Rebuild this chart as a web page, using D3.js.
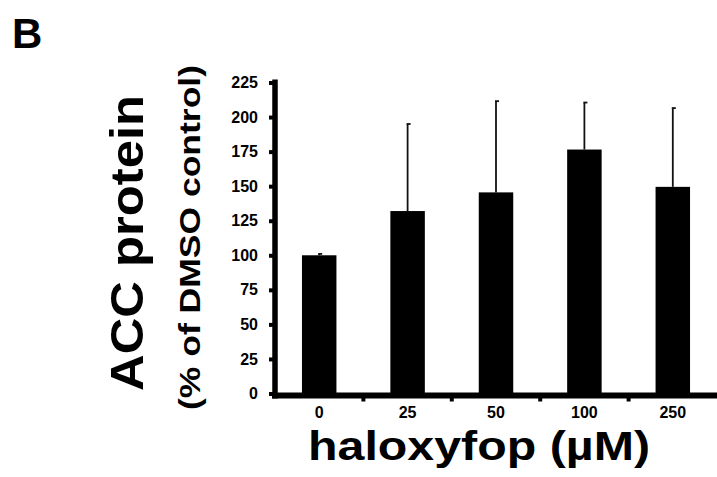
<!DOCTYPE html>
<html>
<head>
<meta charset="utf-8">
<script src="https://cdn.jsdelivr.net/npm/d3@7"></script>
<style>
  html, body { margin: 0; padding: 0; background: #fff; }
  svg { display: block; font-family: "Liberation Sans", Arial, sans-serif; font-weight: bold; }
</style>
</head>
<body>
<svg id="chart" width="717" height="477"></svg>
<script>
// Haloxyfop dose vs ACC protein level (% of DMSO control), mean + upper SD
const doses = ["0", "25", "50", "100", "250"];
const accMean = [100, 132, 145.5, 176.5, 149.5];
const accSD = [1, 63, 66, 34, 57];
const yTicks = [0, 25, 50, 75, 100, 125, 150, 175, 200, 225];

const svg = d3.select("#chart");

const axisX = 275;

const x = d3.scaleBand()
  .domain(doses)
  .range([axisX, 717])
  .paddingInner(0.61)
  .paddingOuter(0.305);

const y = d3.scaleLinear()
  .domain([0, 225])
  .range([393.5, 82.5]);

const data = doses.map((d, i) => ({ dose: d, mean: accMean[i], sd: accSD[i] }));

// bars
svg.append("g")
  .selectAll("rect")
  .data(data)
  .join("rect")
  .attr("x", d => x(d.dose))
  .attr("width", x.bandwidth())
  .attr("y", d => y(d.mean))
  .attr("height", d => y(0) - y(d.mean))
  .attr("fill", "#000");

// upper error bars
const err = svg.append("g").attr("stroke", "#111").attr("stroke-width", 1.8);
err.selectAll("line.stem")
  .data(data)
  .join("line")
  .attr("class", "stem")
  .attr("x1", d => x(d.dose) + x.bandwidth() / 2)
  .attr("x2", d => x(d.dose) + x.bandwidth() / 2)
  .attr("y1", d => y(d.mean))
  .attr("y2", d => y(d.mean + d.sd));
err.selectAll("line.cap")
  .data(data)
  .join("line")
  .attr("class", "cap")
  .attr("x1", d => x(d.dose) + x.bandwidth() / 2 - 1)
  .attr("x2", d => x(d.dose) + x.bandwidth() / 2 + 3)
  .attr("y1", d => y(d.mean + d.sd))
  .attr("y2", d => y(d.mean + d.sd));

// y axis
const yAxis = svg.append("g")
  .attr("transform", `translate(${axisX},0)`)
  .call(d3.axisLeft(y).tickValues(yTicks).tickSize(6).tickSizeOuter(0).tickPadding(11));
yAxis.select(".domain").remove();
yAxis.selectAll(".tick line").attr("stroke", "#000").attr("stroke-width", 4);
yAxis.selectAll(".tick text")
  .attr("font-size", 16)
  .attr("font-family", "Liberation Sans, Arial, sans-serif")
  .attr("font-weight", "bold")
  .attr("fill", "#000");
yAxis.append("line")
  .attr("x1", 0).attr("x2", 0)
  .attr("y1", y(225) - 3).attr("y2", y(0) + 5)
  .attr("stroke", "#000").attr("stroke-width", 5.5);

// x axis: labels centred under bars, ticks on band boundaries
const xAxis = svg.append("g")
  .attr("transform", `translate(0,${y(0)})`)
  .call(d3.axisBottom(x).tickSize(0).tickPadding(13));
xAxis.select(".domain").remove();
xAxis.selectAll(".tick text")
  .attr("font-size", 16)
  .attr("font-family", "Liberation Sans, Arial, sans-serif")
  .attr("font-weight", "bold")
  .attr("fill", "#000");

const halfGap = x.step() * x.paddingInner() / 2;
xAxis.selectAll("line.bound")
  .data(doses.slice(1))
  .join("line")
  .attr("class", "bound")
  .attr("x1", d => x(d) - halfGap)
  .attr("x2", d => x(d) - halfGap)
  .attr("y1", 0).attr("y2", 8)
  .attr("stroke", "#000").attr("stroke-width", 4);
xAxis.append("line")
  .attr("x1", axisX - 3).attr("x2", 717)
  .attr("y1", 2).attr("y2", 2)
  .attr("stroke", "#000").attr("stroke-width", 6);

// axis titles
svg.append("text")
  .attr("x", 308).attr("y", 460)
  .attr("font-size", 41)
  .attr("textLength", 342)
  .attr("lengthAdjust", "spacingAndGlyphs")
  .attr("fill", "#000")
  .text("haloxyfop (µM)");

svg.append("text")
  .attr("transform", "translate(143,391) rotate(-90)")
  .attr("font-size", 46)
  .attr("textLength", 296)
  .attr("lengthAdjust", "spacingAndGlyphs")
  .attr("fill", "#000")
  .text("ACC protein");

svg.append("text")
  .attr("transform", "translate(200,410) rotate(-90)")
  .attr("font-size", 30)
  .attr("textLength", 345)
  .attr("lengthAdjust", "spacingAndGlyphs")
  .attr("fill", "#000")
  .text("(% of DMSO control)");

// panel letter
svg.append("text")
  .attr("x", 12).attr("y", 48)
  .attr("font-size", 42)
  .attr("fill", "#000")
  .text("B");
</script>
</body>
</html>
